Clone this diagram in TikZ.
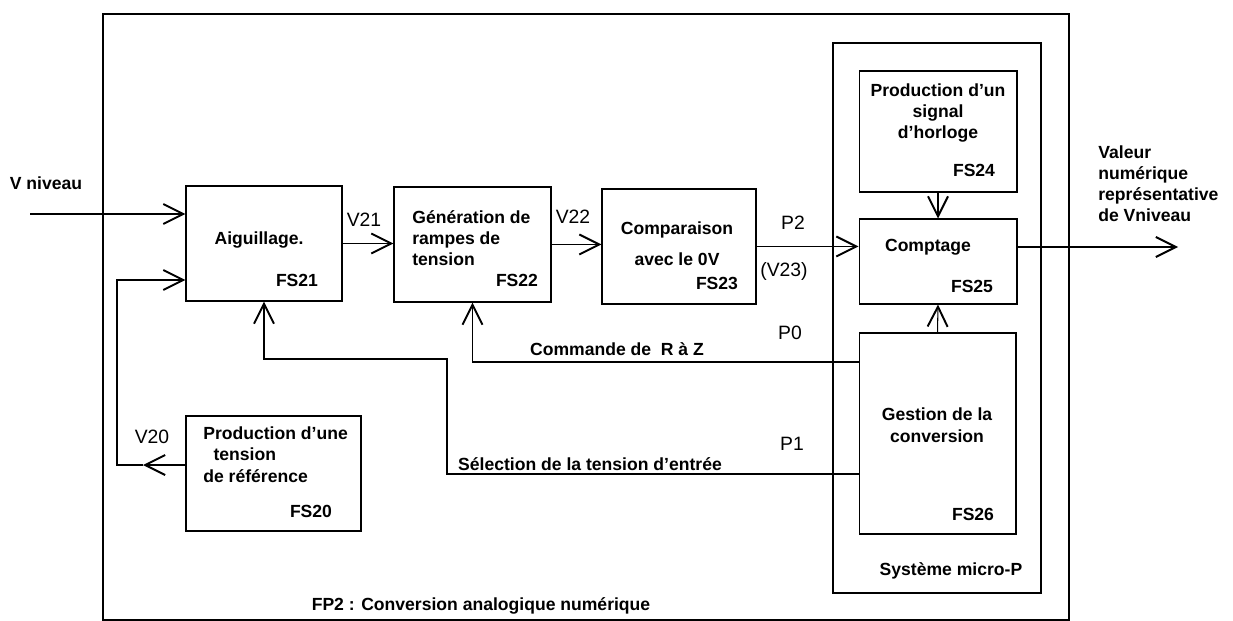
\documentclass[tikz,border=0pt]{standalone}
\usepackage{fontspec}
\setmainfont{Liberation Sans}
\usetikzlibrary{arrows.meta}

\tikzset{
  bloc/.style={draw, line width=0.6pt, inner sep=0pt},
  cadre/.style={line width=0.8pt},
  titre/.style={font=\bfseries\fontsize{10}{12}\selectfont, inner sep=0pt},
  sig/.style={font=\fontsize{11}{13}\selectfont, inner sep=0pt, anchor=base},
  fl/.style={line width=0.6pt, -{Straight Barb[length=4mm,width=4mm,line width=1.1pt]}},
}

\begin{document}
\begin{tikzpicture}[x=0.02cm,y=-0.02cm]
\useasboundingbox (0,0) rectangle (1233,621);

% cadres
\draw[cadre] (103,14) rectangle (1069,620);
\draw[cadre] (833,43) rectangle (1041,593);

% blocs
\node[bloc, minimum width=3.12cm, minimum height=2.30cm] (fs21) at (264,243.5) {};
\node[bloc, minimum width=3.14cm, minimum height=2.30cm] (fs22) at (472.5,244.5) {};
\node[bloc, minimum width=3.08cm, minimum height=2.30cm] (fs23) at (679,246.5) {};
\node[bloc, minimum width=3.50cm, minimum height=2.30cm] (fs20) at (273.5,473.5) {};
\node[bloc, minimum width=3.16cm, minimum height=2.42cm] (fs24) at (938,131.5) {};
\node[bloc, minimum width=3.16cm, minimum height=1.70cm] (fs25) at (938,261.5) {};
\node[bloc, minimum width=3.14cm, minimum height=4.02cm] (fs26) at (937.5,433.5) {};

% textes des blocs
\node[titre, anchor=base] (t21) at (259,245) {Aiguillage.};
\node[titre, anchor=base] (n21) at (297,287) {FS21};
\node[titre, anchor=base west, align=left] (t22) at (412,266) {Génération de\\rampes de\\tension};
\node[titre, anchor=base] (n22) at (517,287) {FS22};
\node[titre, anchor=base] (t23a) at (677,235) {Comparaison};
\node[titre, anchor=base] (t23b) at (677,266) {avec le 0V};
\node[titre, anchor=base] (n23) at (717,290) {FS23};
\node[titre, anchor=base west, align=left] (t20) at (203,482) {Production d'une\\\hspace{1.1ex}tension\\de référence};
\node[titre, anchor=base] (n20) at (311,517) {FS20};
\node[titre, anchor=base, align=center] (t24) at (938,139) {Production d’un\\signal\\d’horloge};
\node[titre, anchor=base] (n24) at (974,177) {FS24};
\node[titre, anchor=base] (t25) at (928,252) {Comptage};
\node[titre, anchor=base] (n25) at (972,293) {FS25};
\node[titre, anchor=base, align=center] (t26) at (937,442) {Gestion de la\\conversion};
\node[titre, anchor=base] (n26) at (973,520) {FS26};
\node[titre, anchor=base] (micro) at (951,575) {Système micro-P};
\node[titre, anchor=base] (fp2) at (481,610) {FP2 : Conversion analogique numérique};

% points libres
\coordinate (entree) at (30,214);
\coordinate (sortie) at (1178,247);
\coordinate (raz) at (859,362);
\coordinate (sel) at (859,474);
\coordinate (ref) at (186,465);
\coordinate (refm) at (143,465);

% liaisons
\draw[fl] (entree) -- (fs21.west |- entree);
\draw[fl] (fs21.east) -- (fs22.west |- fs21.east);
\draw[fl] (fs22.east) -- (fs23.west |- fs22.east);
\draw[fl] (fs23.east) -- (fs25.west |- fs23.east);
\draw[fl] (fs25.east |- sortie) -- (sortie);
\draw[fl] (fs24.south) -- (fs25.north);
\draw[fl] (fs26.north) -- (fs25.south);
\draw[fl] (raz) -| (fs22.south);
\draw[fl] (sel) -| (447,359) -| (fs21.south);
\draw[fl] (ref) -- (refm);
\draw[fl] (refm) -- (117,465) |- (fs21.west |- 0,280);

% etiquettes
\node[titre, anchor=base] (vniv) at (46,190) {V niveau};
\node[sig] (v21) at (364,227) {V21};
\node[sig] (v22) at (573,223.5) {V22};
\node[sig] (p2) at (793,229.5) {P2};
\node[sig] (v23) at (784,277) {(V23)};
\node[sig] (p0) at (790,339) {P0};
\node[sig] (p1) at (792,450) {P1};
\node[sig] (v20) at (152,443) {V20};
\node[titre, anchor=base] (cmd) at (617,356) {Commande de \ R à Z};
\node[titre, anchor=base] (seltxt) at (590,470) {Sélection de la tension d'entrée};
\node[titre, anchor=base west, align=left] (val) at (1098,222) {Valeur\\numérique\\représentative\\de Vniveau};
\end{tikzpicture}
\end{document}
